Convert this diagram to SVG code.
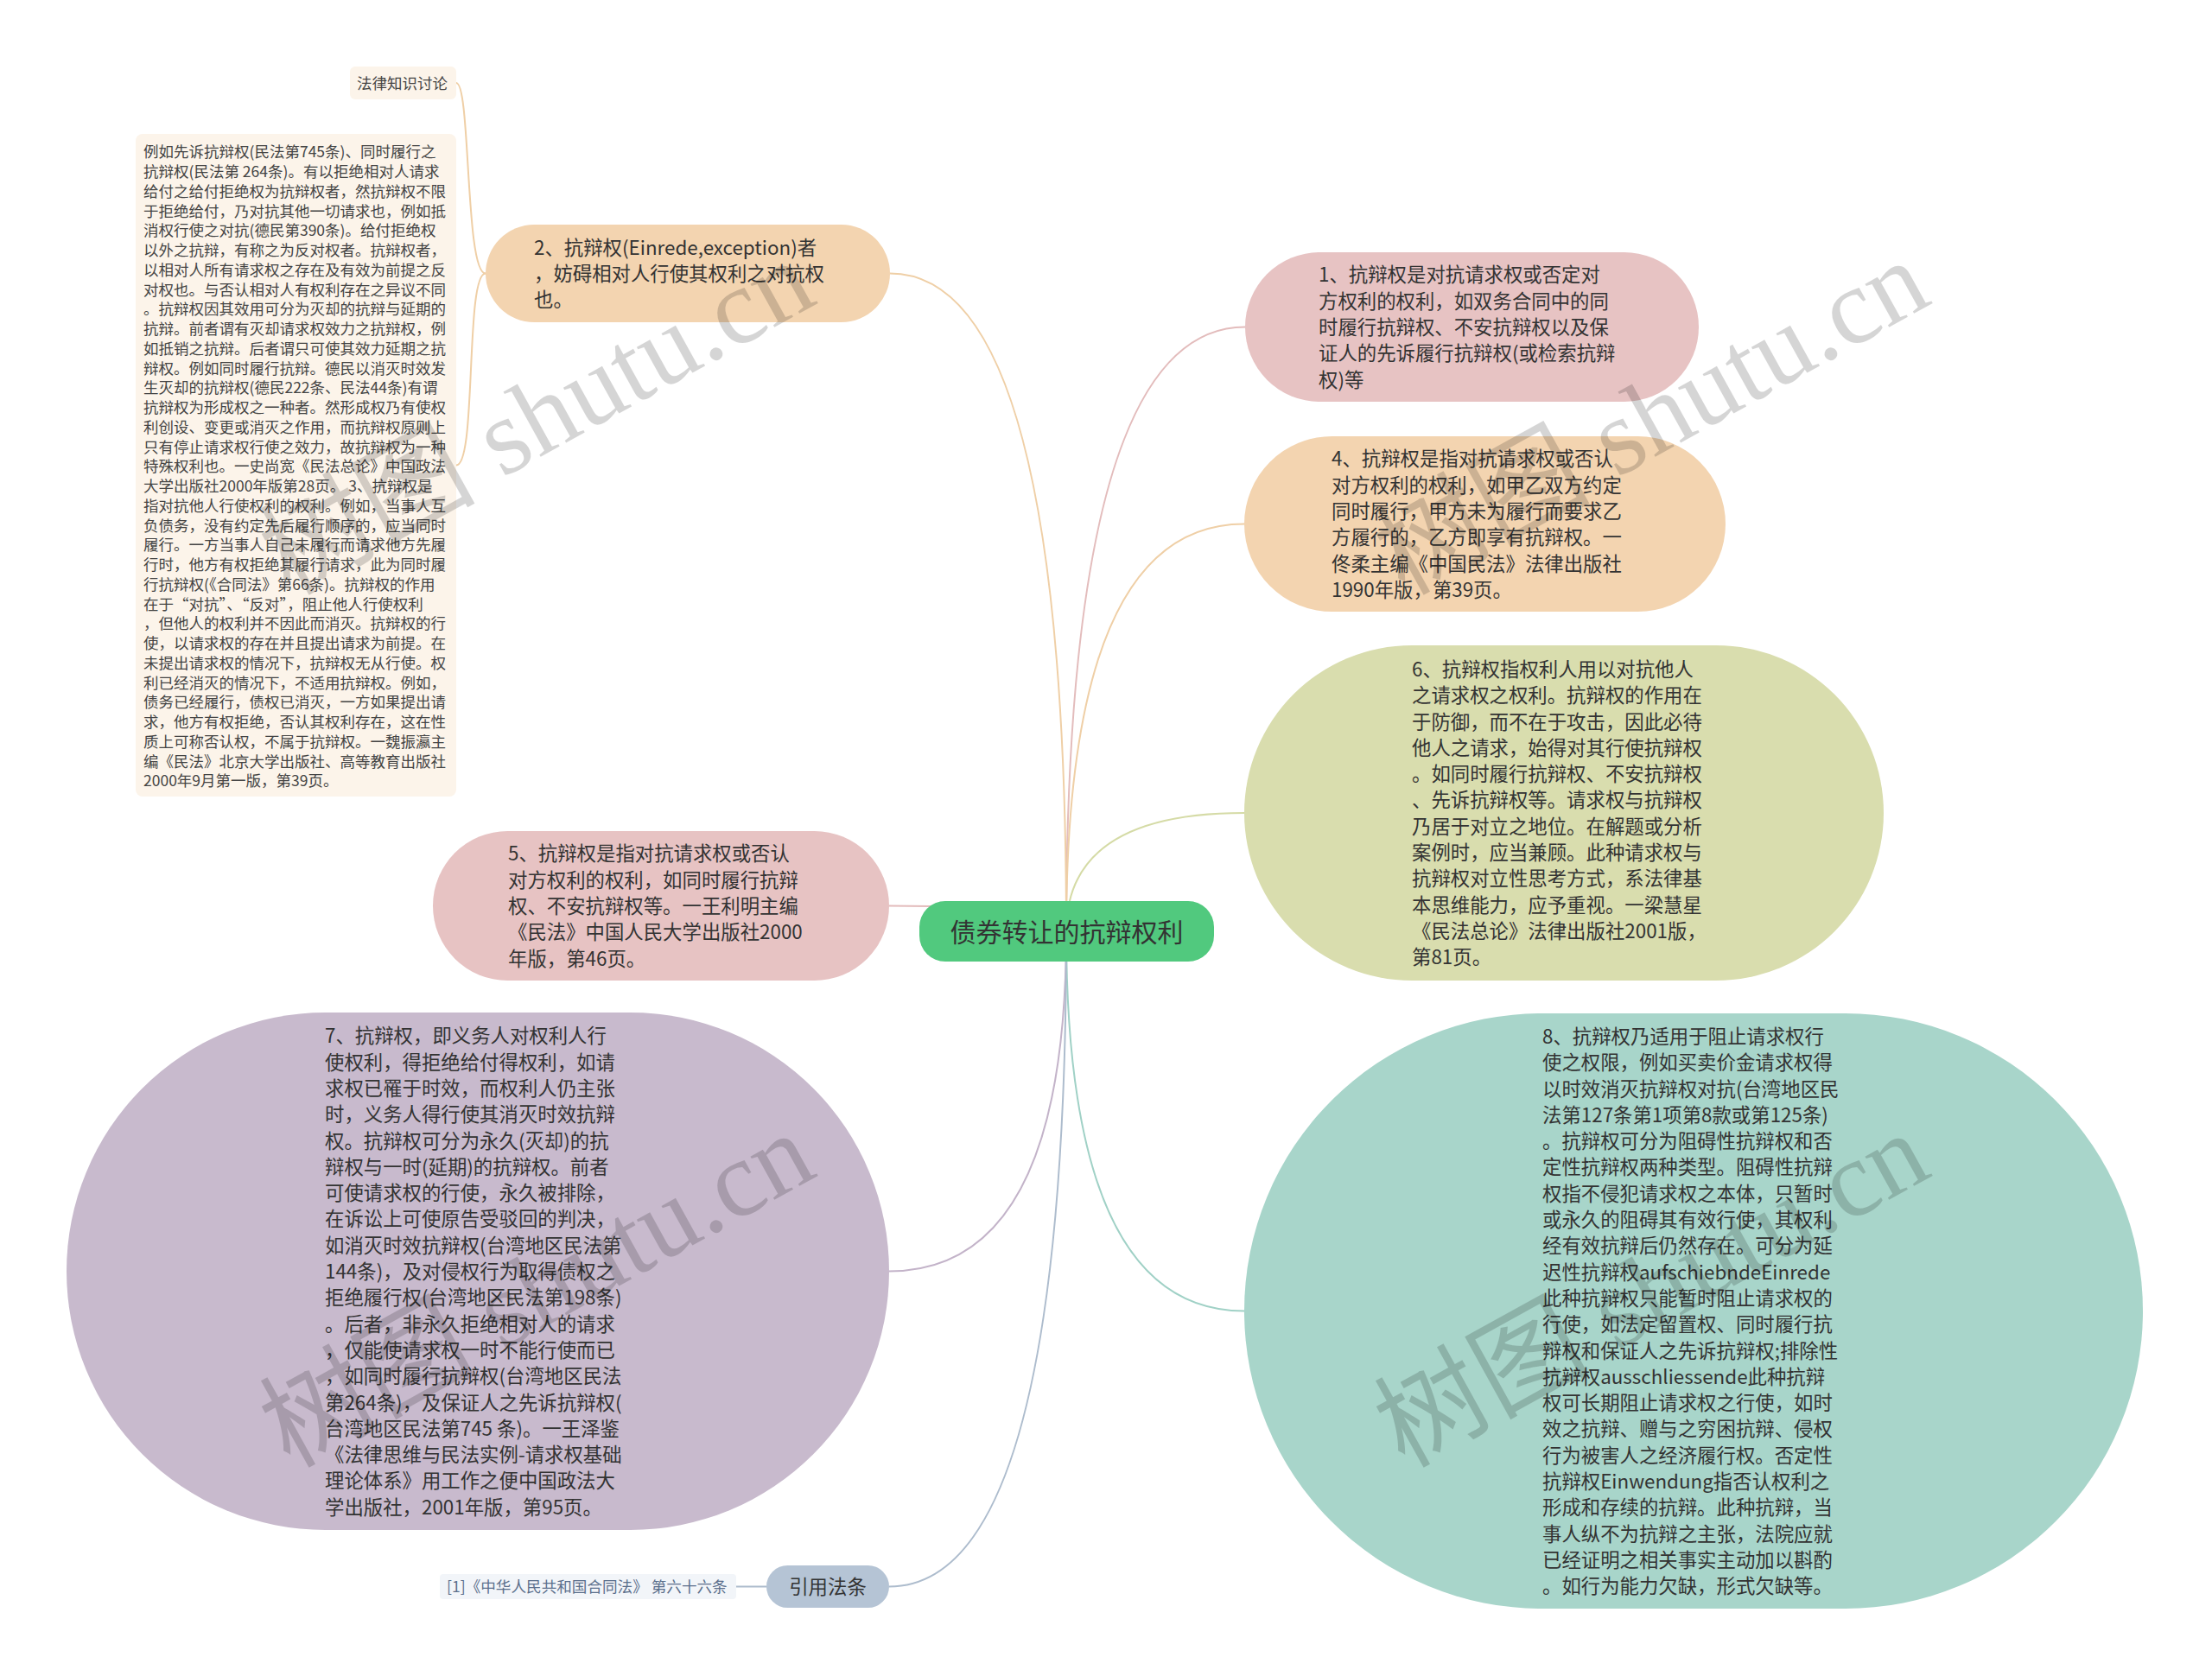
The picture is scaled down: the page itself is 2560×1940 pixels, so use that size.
<svg xmlns="http://www.w3.org/2000/svg" width="2560" height="1940" viewBox="0 0 2560 1940">
<style>
.t{font-family:"Noto Sans CJK SC","Noto Sans",sans-serif;font-size:22.4px;fill:#333}
.s{font-size:17.5px;fill:#444}
.r{font-size:30px;fill:#333}
.ref{font-size:17.6px;fill:#5b6f8c}
.c{fill:none;stroke-width:2}
.wm{font-family:"Liberation Serif","Noto Sans CJK SC",serif;font-size:125px;fill:#000;opacity:0.16}
</style>
<rect width="2560" height="1940" fill="#fff"/>
<g id="connectors">
<path class="c" stroke="#e3bcbc" d="M1234 1078 Q1234 378.5 1441 378.5"/>
<path class="c" stroke="#efcfa6" d="M1234 1078 Q1234 316.5 1030 316.5"/>
<path class="c" stroke="#efcfa6" d="M1234 1078 Q1234 606.5 1440 606.5"/>
<path class="c" stroke="#d5dba6" d="M1234 1078 Q1234 941 1440 941"/>
<path class="c" stroke="#e3bcbc" d="M1234 1078 Q1234 1048.5 1029 1048.5"/>
<path class="c" stroke="#c3b3c9" d="M1234 1078 Q1234 1471.5 1029 1471.5"/>
<path class="c" stroke="#a0d1c6" d="M1234 1078 Q1234 1517.5 1440 1517.5"/>
<path class="c" stroke="#adbccd" d="M1234 1078 Q1234 1836.5 1029 1836.5"/>
<path class="c" stroke="#efcfa6" d="M562 316.5 C538 316.5 545 96 528 96"/>
<path class="c" stroke="#efcfa6" d="M562 316.5 C538 316.5 552 538.5 528 538.5"/>
<path class="c" stroke="#adbccd" d="M887 1836.5 L852 1836.5"/>
</g>
<g id="root">
<rect x="1064" y="1043" width="341" height="70" rx="30" fill="#51c97e"/>
<text class="t r" x="1234.5" y="1089.5" text-anchor="middle">债券转让的抗辩权利</text>
</g>
<g id="node1">
<rect x="1441" y="292" width="525" height="173" rx="86.5" fill="#e7c3c3"/>
<text class="t" x="1526" y="326.4">1、抗辩权是对抗请求权或否定对<tspan x="1526" dy="30.3">方权利的权利，如双务合同中的同</tspan><tspan x="1526" dy="30.3">时履行抗辩权、不安抗辩权以及保</tspan><tspan x="1526" dy="30.3">证人的先诉履行抗辩权(或检索抗辩</tspan><tspan x="1526" dy="30.3">权)等</tspan></text>
</g>
<g id="node2">
<rect x="562" y="260" width="468" height="113" rx="56.5" fill="#f3d4b0"/>
<text class="t" x="618" y="294.7">2、抗辩权(Einrede,exception)者<tspan x="618" dy="30.3">，妨碍相对人行使其权利之对抗权</tspan><tspan x="618" dy="30.3">也。</tspan></text>
</g>
<g id="label-discuss">
<rect x="405" y="77" width="123" height="38" rx="6" fill="#fcf4ea"/>
<text class="t s" x="413" y="103">法律知识讨论</text>
</g>
<g id="note-detail">
<rect x="157" y="155" width="371" height="767" rx="8" fill="#fcf4ea"/>
<text class="t s" x="166" y="182.3">例如先诉抗辩权(民法第745条)、同时履行之<tspan x="166" dy="22.75">抗辩权(民法第 264条)。有以拒绝相对人请求</tspan><tspan x="166" dy="22.75">给付之给付拒绝权为抗辩权者，然抗辩权不限</tspan><tspan x="166" dy="22.75">于拒绝给付，乃对抗其他一切请求也，例如抵</tspan><tspan x="166" dy="22.75">消权行使之对抗(德民第390条)。给付拒绝权</tspan><tspan x="166" dy="22.75">以外之抗辩，有称之为反对权者。抗辩权者，</tspan><tspan x="166" dy="22.75">以相对人所有请求权之存在及有效为前提之反</tspan><tspan x="166" dy="22.75">对权也。与否认相对人有权利存在之异议不同</tspan><tspan x="166" dy="22.75">。抗辩权因其效用可分为灭却的抗辩与延期的</tspan><tspan x="166" dy="22.75">抗辩。前者谓有灭却请求权效力之抗辩权，例</tspan><tspan x="166" dy="22.75">如抵销之抗辩。后者谓只可使其效力延期之抗</tspan><tspan x="166" dy="22.75">辩权。例如同时履行抗辩。德民以消灭时效发</tspan><tspan x="166" dy="22.75">生灭却的抗辩权(德民222条、民法44条)有谓</tspan><tspan x="166" dy="22.75">抗辩权为形成权之一种者。然形成权乃有使权</tspan><tspan x="166" dy="22.75">利创设、变更或消灭之作用，而抗辩权原则上</tspan><tspan x="166" dy="22.75">只有停止请求权行使之效力，故抗辩权为一种</tspan><tspan x="166" dy="22.75">特殊权利也。一史尚宽《民法总论》中国政法</tspan><tspan x="166" dy="22.75">大学出版社2000年版第28页。 3、抗辩权是</tspan><tspan x="166" dy="22.75">指对抗他人行使权利的权利。例如，当事人互</tspan><tspan x="166" dy="22.75">负债务，没有约定先后履行顺序的，应当同时</tspan><tspan x="166" dy="22.75">履行。一方当事人自己未履行而请求他方先履</tspan><tspan x="166" dy="22.75">行时，他方有权拒绝其履行请求，此为同时履</tspan><tspan x="166" dy="22.75">行抗辩权(《合同法》第66条)。抗辩权的作用</tspan><tspan x="166" dy="22.75">在于“对抗”、“反对”，阻止他人行使权利</tspan><tspan x="166" dy="22.75">，但他人的权利并不因此而消灭。抗辩权的行</tspan><tspan x="166" dy="22.75">使，以请求权的存在并且提出请求为前提。在</tspan><tspan x="166" dy="22.75">未提出请求权的情况下，抗辩权无从行使。权</tspan><tspan x="166" dy="22.75">利已经消灭的情况下，不适用抗辩权。例如，</tspan><tspan x="166" dy="22.75">债务已经履行，债权已消灭，一方如果提出请</tspan><tspan x="166" dy="22.75">求，他方有权拒绝，否认其权利存在，这在性</tspan><tspan x="166" dy="22.75">质上可称否认权，不属于抗辩权。一魏振瀛主</tspan><tspan x="166" dy="22.75">编《民法》北京大学出版社、高等教育出版社</tspan><tspan x="166" dy="22.75">2000年9月第一版，第39页。</tspan></text>
</g>
<g id="node4">
<rect x="1440" y="505" width="557" height="203" rx="101.5" fill="#f3d4b0"/>
<text class="t" x="1541" y="539.3">4、抗辩权是指对抗请求权或否认<tspan x="1541" dy="30.3">对方权利的权利，如甲乙双方约定</tspan><tspan x="1541" dy="30.3">同时履行，甲方未为履行而要求乙</tspan><tspan x="1541" dy="30.3">方履行的，乙方即享有抗辩权。一</tspan><tspan x="1541" dy="30.3">佟柔主编《中国民法》法律出版社</tspan><tspan x="1541" dy="30.3">1990年版，第39页。</tspan></text>
</g>
<g id="node6">
<rect x="1440" y="747" width="740" height="388" rx="194" fill="#d9ddae"/>
<text class="t" x="1634" y="782.9">6、抗辩权指权利人用以对抗他人<tspan x="1634" dy="30.3">之请求权之权利。抗辩权的作用在</tspan><tspan x="1634" dy="30.3">于防御，而不在于攻击，因此必待</tspan><tspan x="1634" dy="30.3">他人之请求，始得对其行使抗辩权</tspan><tspan x="1634" dy="30.3">。如同时履行抗辩权、不安抗辩权</tspan><tspan x="1634" dy="30.3">、先诉抗辩权等。请求权与抗辩权</tspan><tspan x="1634" dy="30.3">乃居于对立之地位。在解题或分析</tspan><tspan x="1634" dy="30.3">案例时，应当兼顾。此种请求权与</tspan><tspan x="1634" dy="30.3">抗辩权对立性思考方式，系法律基</tspan><tspan x="1634" dy="30.3">本思维能力，应予重视。一梁慧星</tspan><tspan x="1634" dy="30.3">《民法总论》法律出版社2001版，</tspan><tspan x="1634" dy="30.3">第81页。</tspan></text>
</g>
<g id="node5">
<rect x="501" y="962" width="528" height="173" rx="86.5" fill="#e7c3c3"/>
<text class="t" x="588" y="996.4">5、抗辩权是指对抗请求权或否认<tspan x="588" dy="30.3">对方权利的权利，如同时履行抗辩</tspan><tspan x="588" dy="30.3">权、不安抗辩权等。一王利明主编</tspan><tspan x="588" dy="30.3">《民法》中国人民大学出版社2000</tspan><tspan x="588" dy="30.3">年版，第46页。</tspan></text>
</g>
<g id="node7">
<rect x="77" y="1172" width="952" height="599" rx="299.5" fill="#c8bacd"/>
<text class="t" x="376" y="1207.3">7、抗辩权，即义务人对权利人行<tspan x="376" dy="30.3">使权利，得拒绝给付得权利，如请</tspan><tspan x="376" dy="30.3">求权已罹于时效，而权利人仍主张</tspan><tspan x="376" dy="30.3">时，义务人得行使其消灭时效抗辩</tspan><tspan x="376" dy="30.3">权。抗辩权可分为永久(灭却)的抗</tspan><tspan x="376" dy="30.3">辩权与一时(延期)的抗辩权。前者</tspan><tspan x="376" dy="30.3">可使请求权的行使，永久被排除，</tspan><tspan x="376" dy="30.3">在诉讼上可使原告受驳回的判决，</tspan><tspan x="376" dy="30.3">如消灭时效抗辩权(台湾地区民法第</tspan><tspan x="376" dy="30.3">144条)，及对侵权行为取得债权之</tspan><tspan x="376" dy="30.3">拒绝履行权(台湾地区民法第198条)</tspan><tspan x="376" dy="30.3">。后者，非永久拒绝相对人的请求</tspan><tspan x="376" dy="30.3">，仅能使请求权一时不能行使而已</tspan><tspan x="376" dy="30.3">，如同时履行抗辩权(台湾地区民法</tspan><tspan x="376" dy="30.3">第264条)，及保证人之先诉抗辩权(</tspan><tspan x="376" dy="30.3">台湾地区民法第745 条)。一王泽鉴</tspan><tspan x="376" dy="30.3">《法律思维与民法实例-请求权基础</tspan><tspan x="376" dy="30.3">理论体系》用工作之便中国政法大</tspan><tspan x="376" dy="30.3">学出版社，2001年版，第95页。</tspan></text>
</g>
<g id="node8">
<rect x="1440" y="1173" width="1040" height="689" rx="344.5" fill="#a8d5ca"/>
<text class="t" x="1785" y="1207.9">8、抗辩权乃适用于阻止请求权行<tspan x="1785" dy="30.3">使之权限，例如买卖价金请求权得</tspan><tspan x="1785" dy="30.3">以时效消灭抗辩权对抗(台湾地区民</tspan><tspan x="1785" dy="30.3">法第127条第1项第8款或第125条)</tspan><tspan x="1785" dy="30.3">。抗辩权可分为阻碍性抗辩权和否</tspan><tspan x="1785" dy="30.3">定性抗辩权两种类型。阻碍性抗辩</tspan><tspan x="1785" dy="30.3">权指不侵犯请求权之本体，只暂时</tspan><tspan x="1785" dy="30.3">或永久的阻碍其有效行使，其权利</tspan><tspan x="1785" dy="30.3">经有效抗辩后仍然存在。可分为延</tspan><tspan x="1785" dy="30.3">迟性抗辩权aufschiebndeEinrede</tspan><tspan x="1785" dy="30.3">此种抗辩权只能暂时阻止请求权的</tspan><tspan x="1785" dy="30.3">行使，如法定留置权、同时履行抗</tspan><tspan x="1785" dy="30.3">辩权和保证人之先诉抗辩权;排除性</tspan><tspan x="1785" dy="30.3">抗辩权ausschliessende此种抗辩</tspan><tspan x="1785" dy="30.3">权可长期阻止请求权之行使，如时</tspan><tspan x="1785" dy="30.3">效之抗辩、赠与之穷困抗辩、侵权</tspan><tspan x="1785" dy="30.3">行为被害人之经济履行权。否定性</tspan><tspan x="1785" dy="30.3">抗辩权Einwendung指否认权利之</tspan><tspan x="1785" dy="30.3">形成和存续的抗辩。此种抗辩，当</tspan><tspan x="1785" dy="30.3">事人纵不为抗辩之主张，法院应就</tspan><tspan x="1785" dy="30.3">已经证明之相关事实主动加以斟酌</tspan><tspan x="1785" dy="30.3">。如行为能力欠缺，形式欠缺等。</tspan></text>
</g>
<g id="node-cite">
<rect x="887" y="1812" width="142" height="49" rx="24.5" fill="#b5c4d5"/>
<text class="t" x="958" y="1845" text-anchor="middle">引用法条</text>
</g>
<g id="cite-ref">
<rect x="509" y="1822" width="343" height="29" rx="4" fill="#f2f5f9"/>
<text class="t ref" x="517" y="1842.5">[1]《中华人民共和国合同法》 第六十六条</text>
</g>
<g id="watermark">
<text class="wm" transform="translate(335 690) rotate(-29)">树图 shutu.cn</text>
<text class="wm" transform="translate(1625 690) rotate(-29)">树图 shutu.cn</text>
<text class="wm" transform="translate(335 1700) rotate(-29)">树图 shutu.cn</text>
<text class="wm" transform="translate(1625 1700) rotate(-29)">树图 shutu.cn</text>
</g>
</svg>
